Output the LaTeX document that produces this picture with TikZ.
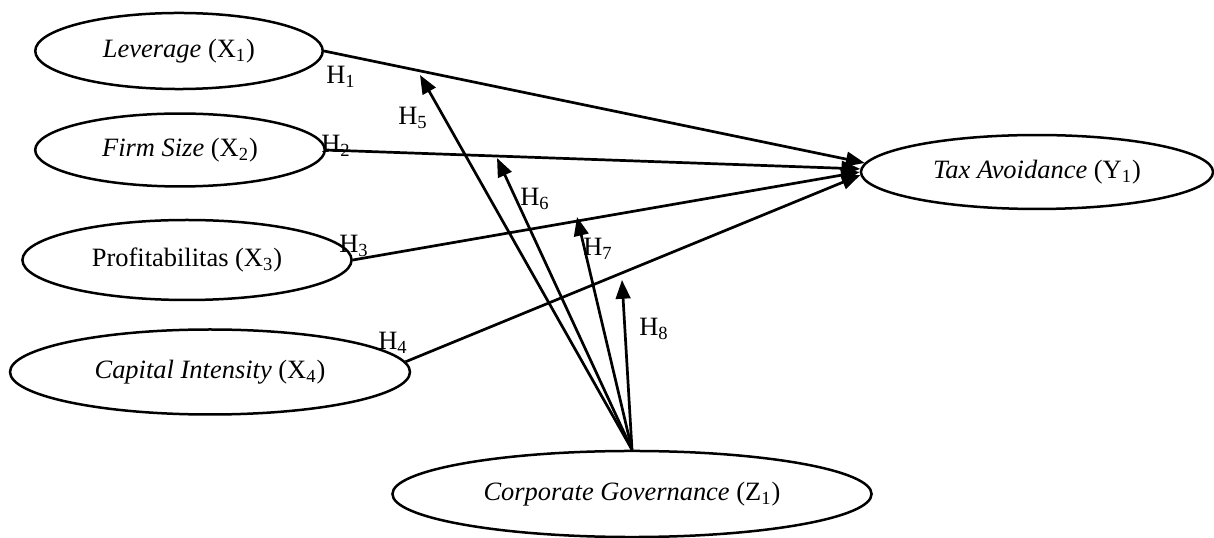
\documentclass[tikz,border=0pt]{standalone}
\usepackage{fontspec}
\setmainfont{Liberation Serif}
\usetikzlibrary{shapes.geometric,arrows.meta}

\begin{document}
\begin{tikzpicture}[x=0.48pt, y=-0.48pt, every node/.style={font=\fontsize{12.7}{15}\selectfont},
  var/.style={ellipse, draw, line width=1.2pt, inner sep=0pt},
  link/.style={line width=1.3pt, -{Triangle[length=9pt,width=7pt]}}]

\useasboundingbox (0,0) rectangle (1214,538);

% VARIABLES
\node[var, minimum width=138pt, minimum height=36.5pt] (lev) at (179, 51) {\textit{Leverage} (X\textsubscript{1})};
\node[var, minimum width=139pt, minimum height=35pt] (size) at (180,150) {\textit{Firm Size} (X\textsubscript{2})};
\node[var, minimum width=158pt, minimum height=38.4pt] (prof) at (187,260) {Profitabilitas (X\textsubscript{3})};
\node[var, minimum width=192pt, minimum height=40.8pt] (cap) at (210,372) {\textit{Capital Intensity} (X\textsubscript{4})};
\node[var, minimum width=169pt, minimum height=35.5pt] (tax) at (1037,172) {\textit{Tax Avoidance} (Y\textsubscript{1})};
\node[var, minimum width=230pt, minimum height=41.3pt] (cg) at (632,494) {\textit{Corporate Governance} (Z\textsubscript{1})};

% DIRECT PATHS
\draw[link] (lev.east) -- (tax.177);
\draw[link] (size.east) -- (tax.179);
\draw[link] (prof.east) -- (tax.180);
\draw[link] (cap.3) -- (tax.181);

% MODERATION PATHS
\coordinate (m5) at (420, 75);
\coordinate (m6) at (497,158);
\coordinate (m7) at (577,217);
\coordinate (m8) at (622,280);
\draw[link] (cg.north) -- (m5);
\draw[link] (cg.north) -- (m6);
\draw[link] (cg.north) -- (m7);
\draw[link] (cg.north) -- (m8);

% LABELS
\node (h1) at (341, 77) {H\textsubscript{1}};
\node (h2) at (336,146) {H\textsubscript{2}};
\node (h3) at (354,246) {H\textsubscript{3}};
\node (h4) at (393,343) {H\textsubscript{4}};
\node (h5) at (413,118) {H\textsubscript{5}};
\node (h6) at (535,199) {H\textsubscript{6}};
\node (h7) at (598,249) {H\textsubscript{7}};
\node (h8) at (654,329) {H\textsubscript{8}};

\end{tikzpicture}
\end{document}
